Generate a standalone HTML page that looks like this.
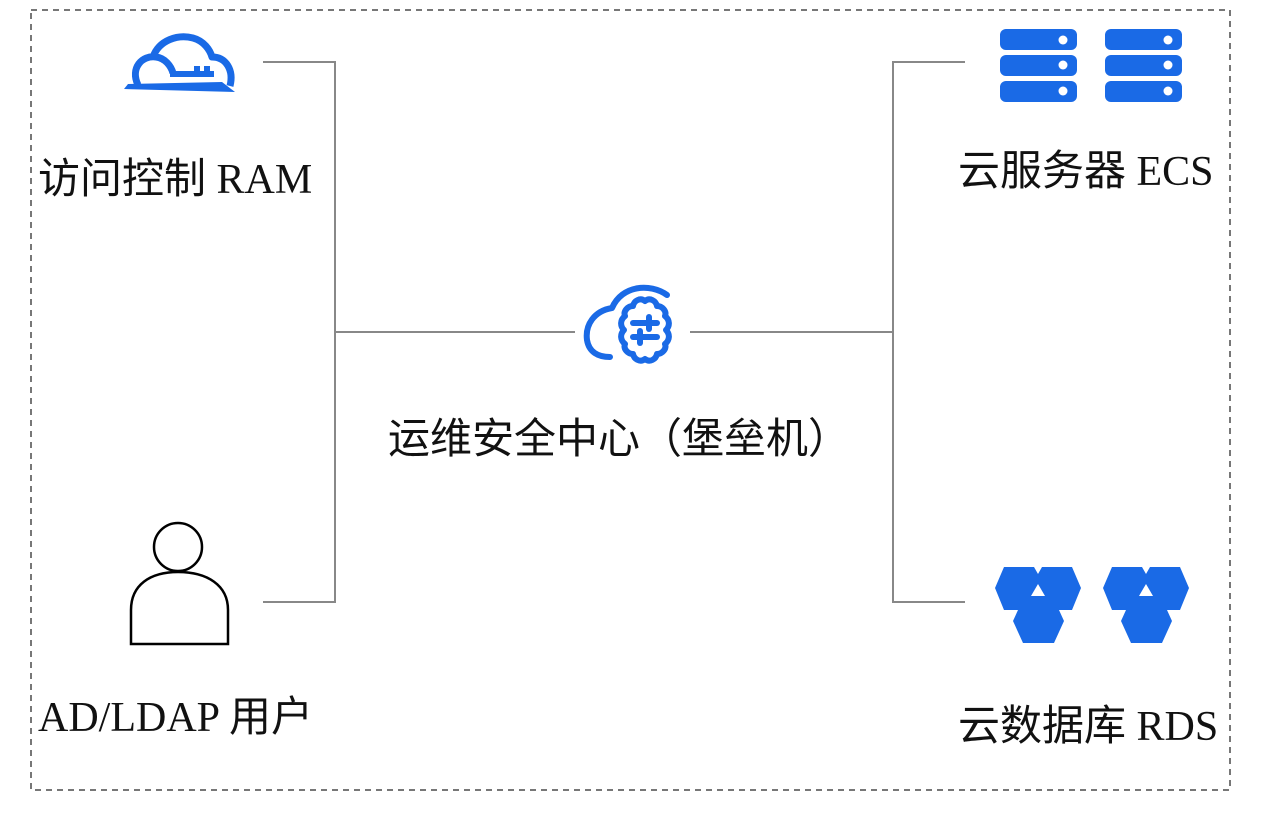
<!DOCTYPE html>
<html><head><meta charset="utf-8"><style>
body{margin:0;width:1281px;height:831px;background:#fff;overflow:hidden;position:relative;font-family:"Liberation Serif","Noto Sans CJK SC",serif;}
.t{position:absolute;font-size:42px;color:#111;white-space:nowrap;line-height:1;}
</style></head><body>
<svg width="1281" height="831" style="position:absolute;left:0;top:0">
<rect x="31" y="10" width="1199" height="780" fill="none" stroke="#777" stroke-width="2" stroke-dasharray="6,5"/>
<g stroke="#888" stroke-width="2" fill="none">
<polyline points="263,62 335,62 335,602 263,602"/>
<line x1="335" y1="332" x2="575" y2="332"/>
<line x1="690" y1="332" x2="893" y2="332"/>
<polyline points="965,62 893,62 893,602 965,602"/>
</g>
<!-- RAM cloud -->
<g fill="none" stroke="#1a6ae6" stroke-width="7" stroke-linejoin="round">
<path d="M138,85 C130,68 142,55 156,57 C165,58 171,66 173,73 M153,57 C159,40 178,34 193,38 C204,41 210,50 212,57 C226,57 234,70 230,86"/>
</g>
<path d="M124,89 L235,92 L222,82 L128,84 Z" fill="#1a6ae6"/>
<path d="M170,71 L194,71 L194,66 L200,66 L200,71 L204,71 L204,66 L210,66 L210,71 L214,71 L214,77 L170,77 Z" fill="#1a6ae6"/>
<!-- center icon -->
<g fill="none" stroke="#1a6ae6" stroke-width="6" stroke-linecap="round" stroke-linejoin="round">
<path d="M667,295 C650,283 622,285 612,308 C594,311 585,325 587,340 C589,352 598,357 610,357"/>
<path d="M645,301 C650,297 656,301 657,306 C662,306 667,311 665,316 C670,320 670,326 666,330 C670,334 670,340 665,344 C667,349 662,354 657,354 C656,359 650,363 645,359 C640,363 634,359 633,354 C628,354 623,349 625,344 C620,340 620,334 624,330 C620,326 620,320 625,316 C623,311 628,306 633,306 C634,301 640,297 645,301 Z"/>
<line x1="633" y1="323" x2="657" y2="323"/><line x1="633" y1="337" x2="657" y2="337"/>
<line x1="649" y1="317" x2="649" y2="329"/><line x1="640" y1="331" x2="640" y2="343"/>
</g>
<!-- servers -->
<g fill="#1a6ae6">
<rect x="1000" y="29" width="77" height="21" rx="6"/><rect x="1000" y="55" width="77" height="21" rx="6"/><rect x="1000" y="81" width="77" height="21" rx="6"/>
<rect x="1105" y="29" width="77" height="21" rx="6"/><rect x="1105" y="55" width="77" height="21" rx="6"/><rect x="1105" y="81" width="77" height="21" rx="6"/>
</g>
<g fill="#fff">
<circle cx="1063" cy="40" r="4.5"/><circle cx="1063" cy="65" r="4.5"/><circle cx="1063" cy="91" r="4.5"/>
<circle cx="1168" cy="40" r="4.5"/><circle cx="1168" cy="65" r="4.5"/><circle cx="1168" cy="91" r="4.5"/>
</g>
<!-- RDS -->
<polygon points="1004,567 1034,567 1038,574 1042,567 1072,567 1081,588 1072,610 1059,610 1064,621 1054,643 1023,643 1013,621 1018,610 1004,610 995,588" fill="#1a6ae6"/>
<polygon points="1038,584 1045,596 1031,596" fill="#fff"/>
<polygon points="1112,567 1142,567 1146,574 1150,567 1180,567 1189,588 1180,610 1167,610 1172,621 1162,643 1131,643 1121,621 1126,610 1112,610 1103,588" fill="#1a6ae6"/>
<polygon points="1146,584 1153,596 1139,596" fill="#fff"/>
<!-- person -->
<g fill="none" stroke="#000" stroke-width="2.5">
<circle cx="178" cy="547" r="24"/>
<path d="M131,644 L131,610 C131,585 150,572 178,572 C207,572 228,585 228,610 L228,644 Z"/>
</g>
</svg>
<div class="t" style="left:38px;top:159px">访问控制 RAM</div>
<div class="t" style="left:958px;top:151px">云服务器 ECS</div>
<div class="t" style="left:388px;top:419px">运维安全中心（堡垒机）</div>
<div class="t" style="left:38px;top:697px">AD/LDAP 用户</div>
<div class="t" style="left:958px;top:706px">云数据库 RDS</div>
</body></html>
